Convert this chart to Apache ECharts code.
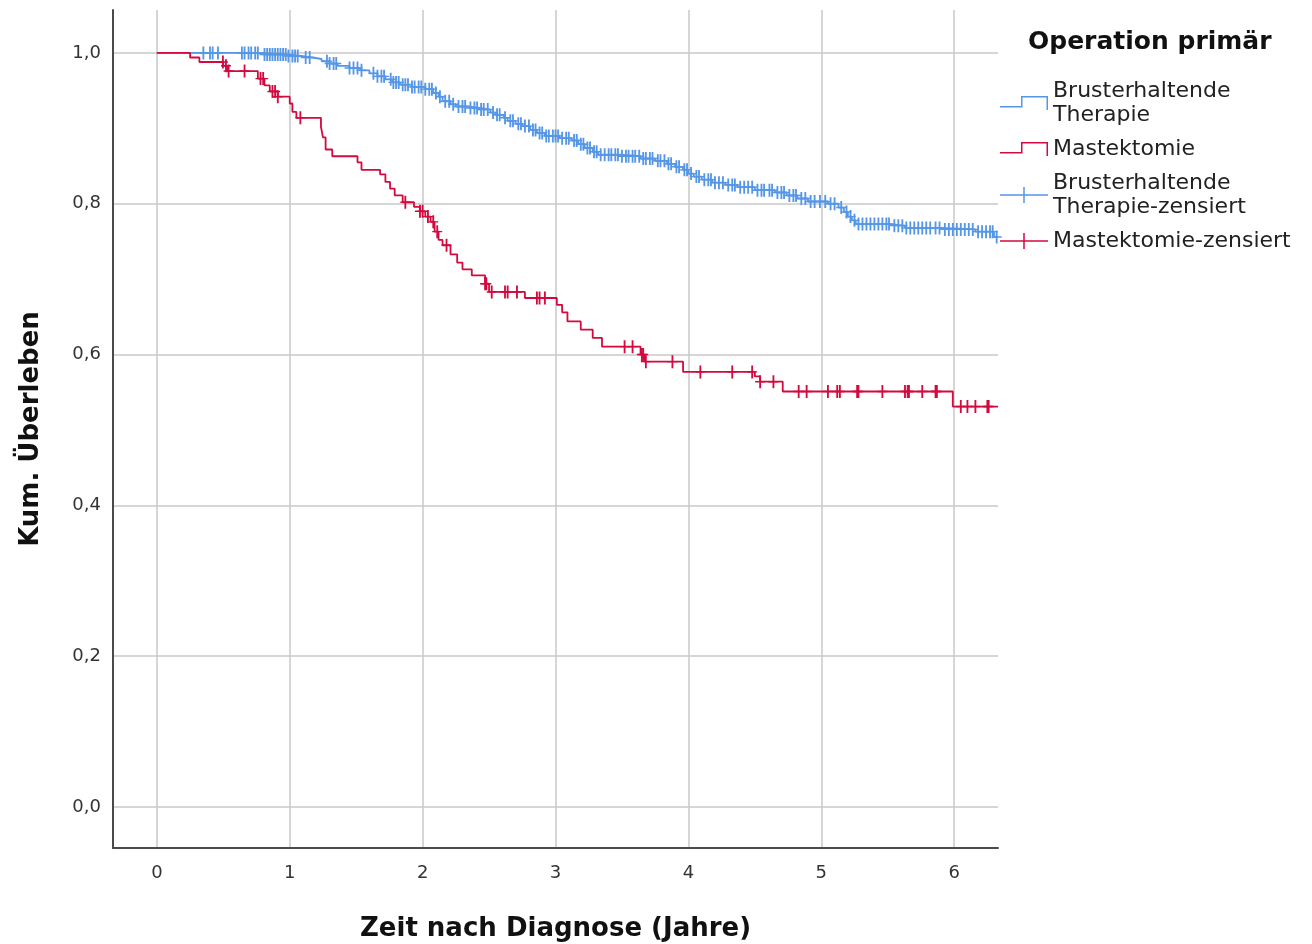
<!DOCTYPE html>
<html>
<head>
<meta charset="utf-8">
<script src="https://cdn.jsdelivr.net/npm/echarts@6/dist/echarts.min.js"></script>
<style>
html,body{margin:0;padding:0;background:#fff;}
#chart{width:1312px;height:944px;}
</style>
</head>
<body>
<div id="chart"></div>
<script>
// ---- Data ----
const xTicks = [0, 1, 2, 3, 4, 5, 6];
const yTicks = [0, 0.2, 0.4, 0.6, 0.8, 1.0];
const endTime = 6.33;

// Mastektomie: event times (years) and survival after each event
const mastTimes = [0.25,0.32,0.50,0.53,0.76,0.81,0.85,0.91,1.00,1.02,1.05,1.235,1.25,1.27,1.32,1.51,1.54,1.68,1.72,1.755,1.79,1.85,1.935,1.98,2.02,2.06,2.09,2.12,2.15,2.21,2.26,2.30,2.37,2.47,2.50,2.77,3.01,3.05,3.09,3.19,3.28,3.35,3.64,3.67,3.96,4.50,4.54,4.71,5.99];
const mastSurv  = [0.994,0.988,0.983,0.976,0.966,0.957,0.949,0.942,0.933,0.922,0.914,0.902,0.888,0.872,0.863,0.855,0.845,0.839,0.829,0.820,0.811,0.802,0.796,0.790,0.783,0.776,0.763,0.752,0.745,0.733,0.722,0.713,0.705,0.694,0.683,0.675,0.666,0.656,0.644,0.633,0.622,0.6105,0.600,0.5906,0.577,0.571,0.564,0.551,0.531];
const mastCensored = [0.497,0.52,0.54,0.66,0.78,0.80,0.87,0.89,0.91,1.08,1.87,1.98,2.00,2.04,2.08,2.11,2.18,2.47,2.48,2.52,2.62,2.64,2.71,2.86,2.88,2.92,3.52,3.58,3.65,3.66,3.68,3.88,4.09,4.33,4.48,4.54,4.64,4.83,4.89,5.05,5.12,5.14,5.27,5.28,5.46,5.63,5.65,5.66,5.76,5.86,5.87,6.05,6.10,6.16,6.25,6.26];

// Brusterhaltende Therapie
const betTimes = [0.79,0.98,1.08,1.17,1.24,1.30,1.36,1.45,1.53,1.60,1.66,1.72,1.77,1.83,1.92,2.02,2.08,2.12,2.15,2.21,2.25,2.34,2.43,2.51,2.55,2.61,2.64,2.70,2.75,2.81,2.86,2.92,3.03,3.12,3.17,3.22,3.28,3.32,3.49,3.64,3.75,3.84,3.90,3.96,4.00,4.04,4.10,4.18,4.28,4.37,4.50,4.65,4.74,4.82,4.90,5.05,5.13,5.17,5.20,5.23,5.26,5.52,5.63,5.90,6.16,6.30];
const betSurv  = [0.998,0.996,0.994,0.992,0.989,0.986,0.983,0.980,0.977,0.973,0.969,0.965,0.961,0.958,0.955,0.952,0.947,0.942,0.936,0.932,0.929,0.927,0.925,0.921,0.918,0.914,0.910,0.906,0.903,0.898,0.894,0.890,0.887,0.884,0.879,0.874,0.869,0.865,0.863,0.860,0.857,0.853,0.849,0.845,0.840,0.836,0.832,0.828,0.825,0.822,0.818,0.815,0.811,0.807,0.803,0.800,0.795,0.789,0.783,0.778,0.773,0.771,0.768,0.766,0.763,0.756];
const betCensored = [0.35,0.40,0.42,0.46,0.64,0.66,0.69,0.71,0.74,0.76,0.81,0.83,0.85,0.87,0.89,0.91,0.93,0.95,0.97,0.99,1.02,1.04,1.06,1.12,1.15,1.28,1.30,1.33,1.35,1.45,1.48,1.51,1.54,1.63,1.66,1.69,1.71,1.76,1.78,1.80,1.82,1.85,1.87,1.89,1.92,1.94,1.97,1.99,2.02,2.05,2.07,2.10,2.13,2.17,2.20,2.23,2.27,2.30,2.32,2.36,2.39,2.41,2.44,2.46,2.49,2.53,2.56,2.58,2.62,2.66,2.68,2.72,2.74,2.77,2.80,2.83,2.85,2.88,2.90,2.93,2.95,2.98,3.00,3.02,3.05,3.08,3.10,3.14,3.16,3.19,3.21,3.24,3.26,3.29,3.31,3.34,3.37,3.40,3.42,3.45,3.47,3.50,3.53,3.55,3.58,3.60,3.63,3.66,3.68,3.71,3.73,3.77,3.79,3.82,3.85,3.87,3.91,3.93,3.97,3.99,4.02,4.06,4.08,4.12,4.15,4.17,4.20,4.23,4.26,4.30,4.33,4.35,4.39,4.42,4.45,4.48,4.52,4.55,4.57,4.61,4.63,4.67,4.70,4.72,4.76,4.79,4.81,4.85,4.88,4.92,4.95,4.99,5.03,5.07,5.10,5.15,5.19,5.22,5.25,5.28,5.31,5.34,5.37,5.40,5.43,5.46,5.49,5.51,5.55,5.58,5.61,5.64,5.67,5.70,5.73,5.76,5.79,5.82,5.86,5.89,5.93,5.96,5.99,6.02,6.05,6.08,6.11,6.14,6.18,6.21,6.24,6.27,6.29,6.32];

const nameBET = 'Brusterhaltende\nTherapie';
const nameMast = 'Mastektomie';
const nameBETc = 'Brusterhaltende\nTherapie-zensiert';
const nameMastc = 'Mastektomie-zensiert';

// ---- helpers ----
function stepData(times, surv, end) {
  const d = [[0, 1]];
  for (let i = 0; i < times.length; i++) d.push([times[i], surv[i]]);
  d.push([end, surv[surv.length - 1]]);
  return d;
}
function survAt(times, surv, t) {
  let s = 1;
  for (let i = 0; i < times.length; i++) if (times[i] <= t) s = surv[i];
  return s;
}
function censData(cens, times, surv) {
  return cens.map(t => [t, survAt(times, surv, t)]);
}

const BLUE = '#5596E6';
const RED = '#D20A3E';
const FONT = 'DejaVu Sans';

const stepIcon = 'path://M0,11H21V1H48V15H46.5V2.5H22.5V12.5H0Z';
const crossIcon = 'path://M0,7.25H48V8.75H0Z M23.25,0H24.75V16H23.25Z';
const censSymbol = 'path://M4.9,0H7.1V13H4.9Z M0,5.8H12V7.2H0Z';

const chart = echarts.init(document.getElementById('chart'), null, {renderer: 'canvas'});
chart.setOption({
  animation: false,
  backgroundColor: '#fff',
  title: {
    text: 'Operation primär',
    left: 1023, top: 25,
    textStyle: {fontFamily: FONT, fontSize: 25, fontWeight: 'bold', color: '#111'}
  },
  legend: {
    orient: 'vertical',
    left: 995, top: 74,
    itemWidth: 48, itemHeight: 16, itemGap: 10,
    textStyle: {fontFamily: FONT, fontSize: 22, lineHeight: 24, color: '#222'},
    data: [
      {name: nameBET, icon: stepIcon},
      {name: nameMast, icon: stepIcon},
      {name: nameBETc, icon: crossIcon},
      {name: nameMastc, icon: crossIcon}
    ]
  },
  grid: {left: 113, right: 314, top: 10, bottom: 96, containLabel: false, outerBoundsMode: 'none'},
  xAxis: {
    type: 'value', min: -0.33, max: 6.33,
    name: 'Zeit nach Diagnose (Jahre)', nameLocation: 'middle', nameGap: 68,
    nameTextStyle: {fontFamily: FONT, fontSize: 26, fontWeight: 'bold', color: '#111'},
    axisLine: {show: true, onZero: false, lineStyle: {color: '#4a4a4a', width: 2}},
    axisTick: {show: false, customValues: xTicks},
    axisLabel: {customValues: xTicks, margin: 16, fontFamily: FONT, fontSize: 18, color: '#333'},
    splitLine: {show: true, lineStyle: {color: '#c8c8c8', width: 1.5}}
  },
  yAxis: {
    type: 'value', min: -0.0545, max: 1.057,
    name: 'Kum. Überleben', nameLocation: 'middle', nameGap: 69,
    nameTextStyle: {fontFamily: FONT, fontSize: 26, fontWeight: 'bold', color: '#111'},
    axisLine: {show: true, onZero: false, lineStyle: {color: '#4a4a4a', width: 2}},
    axisTick: {show: false, customValues: yTicks},
    axisLabel: {customValues: yTicks, margin: 12, fontFamily: FONT, fontSize: 18, color: '#333',
      formatter: v => v.toFixed(1).replace('.', ',')},
    splitLine: {show: true, lineStyle: {color: '#c8c8c8', width: 1.5}}
  },
  series: [
    {
      name: nameBET, type: 'line', step: 'end', showSymbol: false,
      data: stepData(betTimes, betSurv, endTime),
      lineStyle: {color: BLUE, width: 1.8}, itemStyle: {color: BLUE}, z: 3
    },
    {
      name: nameMast, type: 'line', step: 'end', showSymbol: false,
      data: stepData(mastTimes, mastSurv, endTime),
      lineStyle: {color: RED, width: 1.8}, itemStyle: {color: RED}, z: 4
    },
    {
      name: nameBETc, type: 'scatter', symbol: censSymbol, symbolSize: [10, 13],
      data: censData(betCensored, betTimes, betSurv),
      itemStyle: {color: BLUE, opacity: 1}, z: 3
    },
    {
      name: nameMastc, type: 'scatter', symbol: censSymbol, symbolSize: [10, 13],
      data: censData(mastCensored, mastTimes, mastSurv),
      itemStyle: {color: RED, opacity: 1}, z: 4
    }
  ]
});
</script>
</body>
</html>
